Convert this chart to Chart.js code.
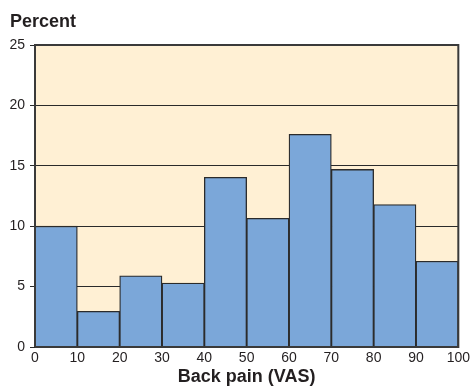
<!DOCTYPE html>
<html>
<head>
<meta charset="utf-8">
<script src="https://cdn.jsdelivr.net/npm/chart.js@4/dist/chart.umd.min.js"></script>
<style>
html,body{margin:0;padding:0;background:#fff;}
#wrap{width:473px;height:388px;position:relative;}
</style>
</head>
<body>
<div id="wrap"><canvas id="c" width="473" height="388"></canvas></div>
<script>
const binCenters = [5, 15, 25, 35, 45, 55, 65, 75, 85, 95];
const percents = [10.0, 2.95, 5.9, 5.3, 14.05, 10.65, 17.6, 14.7, 11.8, 7.1];
const xTicks = [0, 10, 20, 30, 40, 50, 60, 70, 80, 90, 100];
const yTicks = [0, 5, 10, 15, 20, 25];
const yTitle = 'Percent';
const xTitle = 'Back pain (VAS)';

const FONT = '"Liberation Sans", Arial, Helvetica, sans-serif';
const INK = '#231f20';

const bgPlugin = {
  id: 'bg',
  beforeDraw(chart) {
    const {ctx, chartArea: a} = chart;
    ctx.save();
    ctx.fillStyle = '#fff0d4';
    ctx.fillRect(a.left, a.top, a.right - a.left, a.bottom - a.top);
    ctx.restore();
  },
  afterDatasetsDraw(chart) {
    const {ctx, chartArea: a} = chart;
    ctx.save();
    ctx.strokeStyle = '#3a3a3a';
    ctx.lineWidth = 2;
    ctx.beginPath();
    ctx.moveTo(a.left, a.bottom);
    ctx.lineTo(a.left, a.top);
    ctx.lineTo(a.right, a.top);
    ctx.lineTo(a.right, a.bottom);
    ctx.lineTo(a.left, a.bottom);
    ctx.stroke();
    ctx.fillStyle = INK;
    ctx.font = 'bold 18px ' + FONT;
    ctx.textBaseline = 'alphabetic';
    ctx.textAlign = 'left';
    ctx.fillText(yTitle, 10, 27);
    ctx.restore();
  }
};

new Chart(document.getElementById('c'), {
  type: 'bar',
  data: {
    datasets: [{
      data: binCenters.map((x, i) => ({x: x, y: percents[i]})),
      backgroundColor: '#7ba7d9',
      borderColor: '#2b2b2b',
      borderWidth: 1.3,
      barPercentage: 1,
      categoryPercentage: 1
    }]
  },
  options: {
    responsive: false,
    animation: false,
    layout: {padding: {top: 45, right: 14, left: 0, bottom: 0}},
    plugins: {legend: {display: false}, tooltip: {enabled: false}},
    scales: {
      x: {
        type: 'linear',
        min: 0, max: 100,
        offset: false,
        afterBuildTicks(scale) { scale.ticks = xTicks.map(v => ({value: v})); },
        afterFit(scale) { scale.height = 41; },
        grid: {display: false, drawTicks: false, tickLength: 0},
        border: {display: false},
        ticks: {color: INK, font: {family: FONT, size: 14}, padding: 3, maxRotation: 0, autoSkip: false},
        title: {display: true, text: xTitle, color: INK, font: {family: FONT, size: 18, weight: 'bold'}, padding: {top: 0, bottom: 0}}
      },
      y: {
        min: 0, max: 25,
        afterBuildTicks(scale) { scale.ticks = yTicks.map(v => ({value: v})); },
        afterFit(scale) { scale.width = 35; },
        grid: {color: '#2a2a2a', lineWidth: 1, tickLength: 5, drawTicks: true},
        border: {display: false},
        ticks: {color: INK, font: {family: FONT, size: 14}, padding: 5}
      }
    }
  },
  plugins: [bgPlugin]
});
</script>
</body>
</html>
